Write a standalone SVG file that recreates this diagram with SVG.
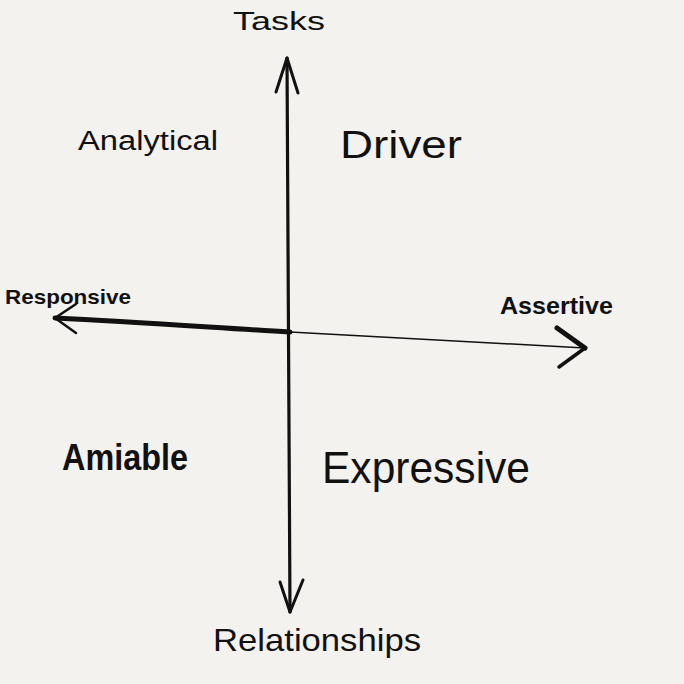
<svg xmlns="http://www.w3.org/2000/svg" width="684" height="684" viewBox="0 0 684 684">
  <style>
    .lbl { font-family: "Liberation Sans", "DejaVu Sans", sans-serif; fill: #111; }
    .ax { fill: none; stroke: #111; stroke-linecap: round; stroke-linejoin: round; }
  </style>
  <rect width="684" height="684" fill="#f3f2ef"/>

  <!-- axes -->
  <g id="connectors">
    <!-- vertical axis: tasks / relationships -->
    <path class="ax" stroke-width="3.2" d="M287 58 C288 200 289 400 290 612"/>
    <path class="ax" stroke-width="3" d="M276 92 L287 58 L298 93"/>
    <path class="ax" stroke-width="3" d="M280 582 L290 612 L303 580"/>
    <!-- horizontal axis: responsive / assertive -->
    <path class="ax" stroke-width="5" d="M55 318 C140 322 220 328 290 332"/>
    <path class="ax" stroke-width="1.4" d="M290 332 C400 338 500 344 585 348"/>
    <path class="ax" stroke-width="2.5" d="M76 304 L55 318 L76 333"/>
    <path class="ax" stroke-width="5" d="M557 328 L585 348"/>
    <path class="ax" stroke-width="3.5" d="M585 348 L559 367"/>
  </g>

  <g id="tasks"><text class="lbl" x="233" y="30" font-size="25" textLength="92" lengthAdjust="spacingAndGlyphs">Tasks</text></g>
  <g id="relationships"><text class="lbl" x="213" y="651" font-size="32" textLength="208" lengthAdjust="spacingAndGlyphs">Relationships</text></g>
  <g id="responsive"><text class="lbl" x="5" y="304" font-size="21" font-weight="bold" textLength="126" lengthAdjust="spacingAndGlyphs">Responsive</text></g>
  <g id="assertive"><text class="lbl" x="500" y="314" font-size="24" font-weight="bold" textLength="113" lengthAdjust="spacingAndGlyphs">Assertive</text></g>
  <g id="analytical"><text class="lbl" x="78" y="150" font-size="27" textLength="140" lengthAdjust="spacingAndGlyphs">Analytical</text></g>
  <g id="driver"><text class="lbl" x="340" y="158" font-size="38" textLength="122" lengthAdjust="spacingAndGlyphs">Driver</text></g>
  <g id="amiable"><text class="lbl" x="62" y="470" font-size="36" font-weight="bold" textLength="126" lengthAdjust="spacingAndGlyphs">Amiable</text></g>
  <g id="expressive"><text class="lbl" x="322" y="483" font-size="44" textLength="208" lengthAdjust="spacingAndGlyphs">Expressive</text></g>
</svg>
